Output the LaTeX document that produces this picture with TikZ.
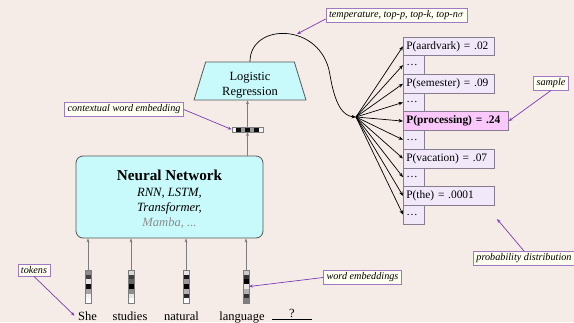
\documentclass[tikz,border=0pt]{standalone}
\usepackage{fontspec}
\setmainfont{Liberation Serif}
\usetikzlibrary{shapes.geometric,arrows.meta,calc}
\definecolor{bgc}{RGB}{246,236,231}
\definecolor{cyanfill}{RGB}{200,250,252}
\definecolor{boxline}{RGB}{85,85,85}
\definecolor{probfill}{RGB}{241,233,250}
\definecolor{probline}{RGB}{135,125,145}
\definecolor{pinkfill}{RGB}{250,200,250}
\definecolor{callfill}{RGB}{255,255,242}
\definecolor{callline}{RGB}{160,120,195}
\definecolor{purp}{RGB}{120,60,180}
\definecolor{arrgray}{RGB}{125,125,125}
\definecolor{mambagray}{RGB}{140,140,140}
\tikzset{
  grayarr/.style={draw=arrgray,line width=0.8pt,-{Stealth[length=4pt,width=3pt]}},
  fanarr/.style={draw=black,line width=0.7pt,-{Stealth[length=4.5pt,width=3.5pt]}},
  callarr/.style={draw=purp,line width=0.7pt,-{Stealth[length=4pt,width=3pt]}},
  callout/.style={draw=callline,fill=callfill,line width=0.7pt,inner xsep=3pt,inner ysep=2.5pt,
    font=\fontsize{10.2}{12}\selectfont\itshape},
  probbox/.style={draw=probline,fill=probfill,line width=0.7pt,anchor=west,minimum height=18.7pt,
    inner xsep=3pt,inner ysep=0pt,align=left,font=\fontsize{11.4}{13}\selectfont},
  widebox/.style={probbox,text width=85pt},
  dotbox/.style={probbox,text width=15pt},
  vecframe/.style={draw=arrgray,line width=0.5pt,inner sep=0pt},
  word/.style={anchor=base,font=\fontsize{12.5}{14}\selectfont},
  vvec/.pic={\foreach \v [count=\i from 0] in {#1}
     \fill[black!\v] (-2.75,-16.5+\i*4.714) rectangle (2.75,-16.5+\i*4.714+4.714);},
  hvec/.pic={\foreach \v [count=\i from 0] in {#1}
     \fill[black!\v] (-15.5+\i*4.43,-2.25) rectangle (-15.5+\i*4.43+4.43,2.25);}
}
\begin{document}
\begin{tikzpicture}[x=1pt,y=-1pt]
\fill[bgc] (0,0) rectangle (574,322);
\useasboundingbox (0,0) rectangle (574,322);

% Neural network
\node[draw=boxline,fill=cyanfill,line width=0.8pt,rounded corners=7pt,minimum width=187pt,minimum height=82pt] (nn) at (169.5,197) {};
\node[anchor=base,font=\fontsize{15.2}{18}\selectfont\bfseries] (nnt1) at (169.5,180) {Neural Network};
\node[anchor=base,font=\fontsize{12.6}{15}\selectfont\itshape] (nnt2) at (169.5,196.5) {RNN, LSTM,};
\node[anchor=base,font=\fontsize{12.6}{15}\selectfont\itshape] (nnt3) at (169.5,211.5) {Transformer,};
\node[anchor=base,font=\fontsize{12.6}{15}\selectfont\itshape,text=mambagray] (nnt4) at (169.5,226) {Mamba, ...};

% Logistic regression
\node[trapezium,trapezium angle=82.5,trapezium stretches=true,minimum width=112pt,minimum height=38pt,
  draw=boxline,fill=cyanfill,line width=0.8pt] (lr) at (250,81) {};
\node[anchor=base,font=\fontsize{12.5}{15}\selectfont] (lrt1) at (250,80) {Logistic};
\node[anchor=base,font=\fontsize{12.5}{15}\selectfont] (lrt2) at (250,95) {Regression};

% contextual embedding vector
\pic at (247.5,129.5) {hvec={5,95,40,95,40,95,5}};
\node[vecframe,minimum width=31pt,minimum height=4.5pt] (cvec) at (247.5,129.5) {};

% token vectors
\pic at (88,286.5) {vvec={45,75,10,95,35,5,0}};
\node[vecframe,minimum width=5.5pt,minimum height=33pt] (v1) at (88,286.5) {};
\pic at (131,286.5) {vvec={15,75,60,100,45,10,0}};
\node[vecframe,minimum width=5.5pt,minimum height=33pt] (v2) at (131,286.5) {};
\pic at (186,286.5) {vvec={10,90,40,100,30,85,0}};
\node[vecframe,minimum width=5.5pt,minimum height=33pt] (v3) at (186,286.5) {};
\pic at (246,286.5) {vvec={20,80,100,10,30,80,50}};
\node[vecframe,minimum width=5.5pt,minimum height=33pt] (v4) at (246,286.5) {};

% words
\node[word] (w1) at (87.5,320) {She};
\node[word] (w2) at (130,320) {studies};
\node[word] (w3) at (181.5,320) {natural};
\node[word] (w4) at (242,320) {language};
\node[word] (q) at (292,317.5) {?};
\draw[line width=0.6pt] (272,319) -- (312,319);

% gray arrows
\foreach \v in {v1,v2,v3,v4}
  \draw[grayarr] (\v.north) -- (\v.north |- nn.south);
\draw[grayarr] (cvec.south |- nn.north) -- (cvec.south);
\draw[grayarr] (cvec.north) -- (cvec.north |- lr.south);

% probability boxes
\node[widebox] (p1) at (403,46.3) {P(aardvark) = .02};
\node[dotbox] (p2) at (403,65) {\dots};
\node[widebox] (p3) at (403,83.7) {P(semester) = .09};
\node[dotbox] (p4) at (403,102.4) {\dots};
\node[probbox,fill=pinkfill,text width=99pt,font=\fontsize{11.4}{13}\selectfont\bfseries] (p5) at (403,121.1) {P(processing) = .24};
\node[dotbox] (p6) at (403,139.8) {\dots};
\node[widebox] (p7) at (403,158.5) {P(vacation) = .07};
\node[dotbox] (p8) at (403,177.2) {\dots};
\node[widebox] (p9) at (403,195.9) {P(the) = .0001};
\node[dotbox] (p10) at (403,214.6) {\dots};

% fan
\coordinate (fan) at (356,117);
\foreach \p in {p1,p2,p3,p4,p5,p6,p7,p8,p9,p10}
  \draw[fanarr] (fan) -- (\p.west);
\draw[fanarr] (lr.north) .. controls (250,22) and (322,22) .. (330,75) .. controls (335,105) and (343,116) .. (fan);

% callouts
\node[callout] (temp) at (396.5,15.5) {temperature, top-p, top-k, top-n$\sigma$};
\coordinate (tempt) at (297,34);
\draw[callarr] ([yshift=4pt]temp.south west) -- (tempt);

\node[callout] (ctx) at (124,109.5) {contextual word embedding};
\draw[callarr] (ctx.east) -- (cvec.west);

\node[callout] (smp) at (551,83) {sample};
\draw[callarr] (smp.south) -- (p5.east);

\node[callout] (tok) at (34,270) {tokens};
\draw[callarr] (tok.south) -- (w1.west);

\node[callout] (we) at (362.5,277.5) {word embeddings};
\draw[callarr] (we.west) -- (v4.east);

\node[callout] (pd) at (524,258.5) {probability distribution};
\coordinate (pdt) at (497,219);
\draw[callarr] (pd.north) -- (pdt);
\end{tikzpicture}
\end{document}
